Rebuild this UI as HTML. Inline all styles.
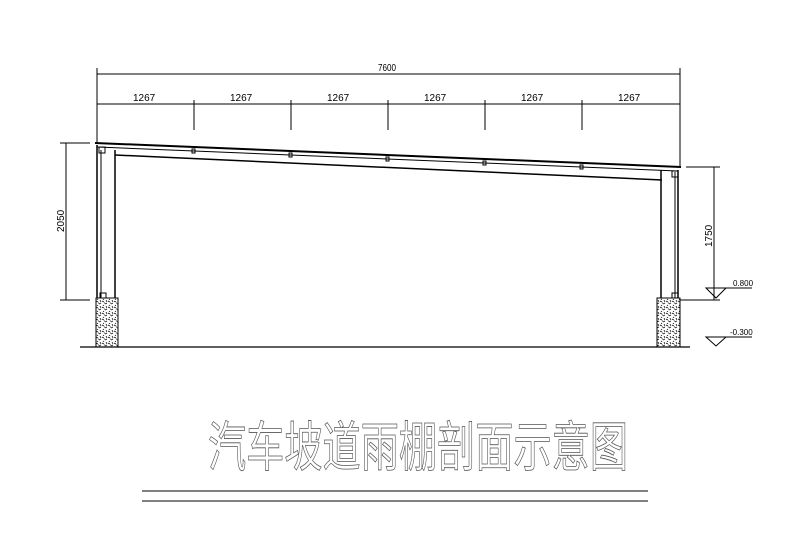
<!DOCTYPE html>
<html><head><meta charset="utf-8"><style>html,body{margin:0;padding:0;background:#fff}</style></head>
<body>
<svg width="800" height="536" viewBox="0 0 800 536" xmlns="http://www.w3.org/2000/svg">
<defs>
<pattern id="hatch" width="6" height="6" patternUnits="userSpaceOnUse">
<rect width="6" height="6" fill="#fff"/>
<path d="M0 1l2 1M3 4l2-1M1 5l1 1M4 0l1 2M2 3l1 0" stroke="#111" stroke-width="0.8"/>
</pattern>
</defs>
<g stroke="#000" fill="none" stroke-width="1">
<line x1="97" y1="74" x2="680" y2="74"/>
<line x1="97" y1="68" x2="97" y2="143"/>
<line x1="680" y1="68" x2="680" y2="167"/>
<line x1="97" y1="104" x2="680" y2="104"/>
<line x1="194" y1="100" x2="194" y2="130"/>
<line x1="291" y1="100" x2="291" y2="130"/>
<line x1="388" y1="100" x2="388" y2="130"/>
<line x1="485" y1="100" x2="485" y2="130"/>
<line x1="582" y1="100" x2="582" y2="130"/>
<line x1="95" y1="143" x2="681" y2="167" stroke-width="2"/>
<line x1="97" y1="147" x2="678" y2="171"/>
<line x1="115" y1="155" x2="662" y2="180" stroke-width="1.5"/>
<line x1="97" y1="145" x2="97" y2="298" stroke-width="1.5"/>
<line x1="101" y1="150" x2="101" y2="298"/>
<line x1="115" y1="150" x2="115" y2="298" stroke-width="1.5"/>
<line x1="661" y1="170" x2="661" y2="298" stroke-width="1.5"/>
<line x1="675" y1="172" x2="675" y2="298"/>
<line x1="678" y1="170" x2="678" y2="298" stroke-width="1.5"/>
<rect x="99" y="147" width="6" height="6"/>
<rect x="672" y="171" width="6" height="6"/>
<rect x="100" y="293" width="6" height="5"/>
<rect x="672" y="293" width="6" height="5"/>
<rect x="192" y="149" width="3" height="4"/><rect x="289" y="153" width="3" height="4"/>
<rect x="386" y="157" width="3" height="4"/><rect x="483" y="161" width="3" height="4"/>
<rect x="580" y="165" width="3" height="4"/>
<rect x="96" y="298" width="22" height="49" fill="url(#hatch)"/>
<rect x="657" y="298" width="23" height="49" fill="url(#hatch)"/>
<line x1="80" y1="347" x2="690" y2="347" stroke-width="1.2"/>
<line x1="66" y1="143" x2="66" y2="300"/>
<line x1="60" y1="143" x2="90" y2="143"/>
<line x1="60" y1="300" x2="90" y2="300"/>
<line x1="714" y1="167" x2="714" y2="300"/>
<line x1="686" y1="167" x2="720" y2="167"/>
<line x1="680" y1="300" x2="720" y2="300"/>
<path d="M706 288 L726 288 L716 298 Z"/><line x1="716" y1="288" x2="752" y2="288"/>
<path d="M706 337 L726 337 L716 346 Z"/><line x1="716" y1="337" x2="752" y2="337"/>
<line x1="142" y1="491" x2="648" y2="491"/>
<line x1="142" y1="501" x2="648" y2="501"/>
</g>
<g font-family="Liberation Sans, sans-serif" font-size="10" fill="#000">
<text x="378" y="71" textLength="18" lengthAdjust="spacingAndGlyphs">7600</text>
<text x="133" y="101">1267</text><text x="230" y="101">1267</text><text x="327" y="101">1267</text>
<text x="424" y="101">1267</text><text x="521" y="101">1267</text><text x="618" y="101">1267</text>
<text transform="translate(64,232) rotate(-90)">2050</text>
<text transform="translate(712,247) rotate(-90)">1750</text>
<text x="733" y="286" font-size="8">0.800</text>
<text x="730" y="335" font-size="8">-0.300</text>
</g>
<text x="208" y="466" font-family="Liberation Sans, 'Noto Sans CJK SC', sans-serif" font-size="54" fill="none" stroke="#555" stroke-width="0.8" textLength="420" lengthAdjust="spacingAndGlyphs">汽车坡道雨棚剖面示意图</text>
</svg>
</body></html>
